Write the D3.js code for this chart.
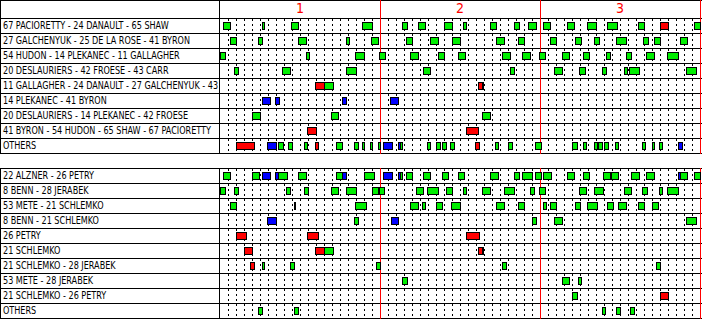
<!DOCTYPE html>
<html>
<head>
<meta charset="utf-8">
<script src="https://cdn.jsdelivr.net/npm/d3@7"></script>
<style>
  body { margin: 0; background: #fff; }
  text { font-family: "DejaVu Sans Condensed", "DejaVu Sans", sans-serif; }
</style>
</head>
<body>
<div id="content"></div>
<script>
const periods = ['1', '2', '3'];

const fwdLines = [
  '67 PACIORETTY - 24 DANAULT - 65 SHAW',
  '27 GALCHENYUK - 25 DE LA ROSE - 41 BYRON',
  '54 HUDON - 14 PLEKANEC - 11 GALLAGHER',
  '20 DESLAURIERS - 42 FROESE - 43 CARR',
  '11 GALLAGHER - 24 DANAULT - 27 GALCHENYUK - 43 CARR',
  '14 PLEKANEC - 41 BYRON',
  '20 DESLAURIERS - 14 PLEKANEC - 42 FROESE',
  '41 BYRON - 54 HUDON - 65 SHAW - 67 PACIORETTY',
  'OTHERS'
];

const defPairs = [
  '22 ALZNER - 26 PETRY',
  '8 BENN - 28 JERABEK',
  '53 METE - 21 SCHLEMKO',
  '8 BENN - 21 SCHLEMKO',
  '26 PETRY',
  '21 SCHLEMKO',
  '21 SCHLEMKO - 28 JERABEK',
  '53 METE - 28 JERABEK',
  '21 SCHLEMKO - 26 PETRY',
  'OTHERS'
];

// shifts per row: [start min, end min, kind]  g = even, r = goal against, b = goal for
const fwdShifts = [
  [[0.4,1.3,'g'],[5.2,5.5,'g'],[8.9,9.8,'g'],[17.8,19.0,'g'],[22.7,23.4,'g'],[24.7,25.6,'g'],[28.0,29.0,'g'],[30.4,30.8,'g'],[33.7,34.5,'g'],[36.7,37.4,'g'],[38.5,39.5,'g'],[40.4,41.3,'g'],[43.4,44.3,'g'],[45.9,47.0,'g'],[48.4,49.6,'g'],[52.2,53.0,'g'],[55.0,56.0,'r'],[59.3,60.0,'g']],
  [[1.2,2.0,'g'],[4.8,5.3,'g'],[9.7,10.7,'g'],[15.7,16.1,'g'],[18.9,19.8,'g'],[23.3,24.0,'g'],[26.2,27.2,'g'],[29.0,30.0,'g'],[34.5,35.5,'g'],[37.3,38.0,'g'],[41.2,42.0,'g'],[44.4,45.1,'g'],[46.8,47.4,'g'],[49.5,50.7,'g'],[52.9,53.5,'g'],[54.2,55.0,'g'],[57.5,58.4,'g']],
  [[0.0,0.6,'g'],[10.8,11.1,'g'],[16.9,18.0,'g'],[19.9,20.6,'g'],[23.8,24.8,'g'],[27.2,28.0,'g'],[29.7,30.6,'g'],[35.3,36.3,'g'],[37.7,38.7,'g'],[39.9,40.6,'g'],[42.7,43.6,'g'],[45.4,46.1,'g'],[48.3,48.7,'g'],[50.7,51.4,'g'],[53.2,54.2,'g'],[55.9,57.3,'g']],
  [[1.8,2.3,'g'],[7.8,8.8,'g'],[15.8,17.0,'g'],[25.4,26.2,'g'],[36.3,36.8,'g'],[41.8,42.8,'g'],[44.9,45.6,'g'],[47.7,48.2,'g'],[50.5,50.9,'g'],[51.1,52.4,'g'],[58.3,59.5,'g']],
  [[11.9,13.0,'r'],[13.0,14.1,'g'],[32.3,32.7,'r'],[32.7,32.9,'g']],
  [[5.3,6.2,'b'],[6.9,7.4,'b'],[15.2,15.8,'b'],[21.3,22.3,'b']],
  [[4.0,5.0,'g'],[13.9,14.8,'g'],[32.8,33.8,'g']],
  [[10.9,12.0,'r'],[30.7,32.2,'r']],
  [[2.0,4.2,'r'],[5.9,7.0,'b'],[7.3,7.9,'g'],[8.5,9.0,'g'],[10.5,10.9,'g'],[11.9,12.2,'r'],[14.5,15.3,'g'],[16.7,17.2,'g'],[17.8,18.0,'g'],[18.8,19.0,'g'],[19.7,20.0,'g'],[20.4,21.5,'b'],[22.2,22.5,'b'],[22.5,22.8,'g'],[25.9,26.3,'g'],[27.0,27.5,'g'],[27.8,28.2,'g'],[28.8,29.2,'g'],[31.9,32.4,'r'],[34.4,34.7,'g'],[36.0,36.5,'g'],[39.4,40.1,'g'],[44.0,44.6,'g'],[45.4,45.7,'g'],[46.7,47.1,'g'],[47.3,47.8,'g'],[48.0,48.5,'g'],[49.4,49.8,'g'],[52.7,53.1,'g'],[54.0,54.3,'g'],[54.9,55.2,'g'],[57.2,57.7,'b']]
];

const defShifts = [
  [[0.4,1.3,'g'],[4.0,4.9,'g'],[5.3,6.2,'b'],[6.9,7.3,'b'],[7.3,8.4,'g'],[9.7,10.7,'g'],[14.5,15.3,'g'],[15.3,15.8,'b'],[18.0,19.2,'g'],[20.4,21.5,'b'],[22.2,22.5,'b'],[22.5,22.8,'g'],[23.3,24.0,'g'],[25.4,26.2,'g'],[27.7,28.5,'g'],[29.7,30.5,'g'],[33.7,34.7,'g'],[36.7,37.4,'g'],[37.7,39.0,'g'],[39.4,40.1,'g'],[40.4,41.4,'g'],[43.4,44.3,'g'],[45.4,46.1,'g'],[47.9,48.7,'g'],[48.9,49.8,'g'],[51.4,52.4,'g'],[53.2,54.2,'g'],[57.2,57.5,'b'],[57.5,58.4,'g'],[59.3,60.0,'g']],
  [[0.0,0.6,'g'],[1.8,2.3,'g'],[8.3,8.8,'g'],[10.5,11.0,'g'],[13.9,14.8,'g'],[15.7,17.0,'g'],[19.0,19.7,'g'],[19.9,20.5,'g'],[24.5,25.4,'g'],[25.9,27.2,'g'],[28.3,29.0,'g'],[30.4,30.8,'g'],[32.8,33.8,'g'],[35.5,36.8,'g'],[38.8,39.2,'g'],[39.9,40.6,'g'],[44.9,45.7,'g'],[46.8,47.9,'g'],[50.5,51.4,'g'],[52.7,53.4,'g'],[54.9,55.2,'g'],[55.9,57.3,'g']],
  [[1.2,2.0,'g'],[9.2,9.4,'g'],[16.9,18.2,'g'],[23.8,24.8,'g'],[25.25,25.6,'g'],[27.0,27.8,'g'],[28.9,30.0,'g'],[34.5,35.5,'g'],[37.3,38.0,'g'],[40.4,40.7,'g'],[41.2,42.0,'g'],[44.4,45.0,'g'],[45.9,47.1,'g'],[48.4,49.1,'g'],[49.8,50.7,'g'],[52.2,53.0,'g'],[54.0,54.7,'g']],
  [[5.9,7.0,'b'],[16.7,17.2,'g'],[21.4,22.3,'b'],[39.0,39.5,'g'],[41.8,42.8,'g'],[58.3,59.5,'g']],
  [[2.0,3.3,'r'],[10.9,12.2,'r'],[30.7,32.4,'r']],
  [[3.0,4.0,'r'],[11.9,13.0,'r'],[13.0,14.1,'g'],[32.3,32.7,'r'],[32.7,32.9,'g']],
  [[3.8,4.2,'r'],[5.2,5.5,'g'],[8.7,9.3,'g'],[19.5,20.0,'g'],[35.3,35.7,'g'],[54.5,55.0,'g']],
  [[22.7,23.4,'g'],[42.7,43.6,'g'],[44.7,45.1,'g']],
  [[44.0,44.6,'g'],[55.0,56.0,'r']],
  [[4.8,5.3,'g'],[9.2,9.8,'g'],[47.8,48.1,'g'],[49.5,50.0,'g'],[51.2,51.7,'g']]
];

const kindColor = { g: '#00ee00', r: '#ff0000', b: '#0000ff' };

const width = 702;
const height = 319;
const labelW = 220;
const rowH = 15;

const x = d3.scaleLinear().domain([0, 60]).range([labelW, 700]);

const svg = d3.select('#content')
  .append('svg')
  .attr('width', width)
  .attr('height', height);

svg.append('clipPath').attr('id', 'lblclip')
  .append('rect').attr('x', 0).attr('y', 0).attr('width', labelW - 2).attr('height', height);

function panel(top, header, labels, shifts) {
  const bodyTop = top + header;
  const bottom = bodyTop + labels.length * rowH;
  const y = d3.scaleBand().domain(labels.map((d, i) => i)).range([bodyTop, bottom]);
  const g = svg.append('g');

  // minute grid (dotted)
  const minutes = d3.range(1, 60).filter(m => m % 20 !== 0);
  g.append('g').selectAll('line')
    .data(minutes).enter().append('line')
    .attr('x1', d => Math.round(x(d)) + 0.5)
    .attr('x2', d => Math.round(x(d)) + 0.5)
    .attr('y1', bodyTop + 1)
    .attr('y2', bottom)
    .attr('stroke', '#000')
    .attr('stroke-dasharray', '2,3');

  // row separators
  g.append('g').selectAll('line')
    .data(d3.range(labels.length + 1)).enter().append('line')
    .attr('x1', 0).attr('x2', width)
    .attr('y1', d => bodyTop + d * rowH + 0.5)
    .attr('y2', d => bodyTop + d * rowH + 0.5)
    .attr('stroke', '#000');

  if (header) {
    g.append('line').attr('x1', 0).attr('x2', width)
      .attr('y1', top + 0.5).attr('y2', top + 0.5).attr('stroke', '#000');
    g.selectAll('.plabel')
      .data(periods).enter().append('text')
      .attr('class', 'plabel')
      .attr('x', (d, i) => x(i * 20 + 10))
      .attr('y', top + 13)
      .attr('text-anchor', 'middle')
      .attr('fill', '#ff0000')
      .style('font-size', '14px')
      .text(d => d);
  }

  // frame
  g.append('line').attr('x1', 0.5).attr('x2', 0.5)
    .attr('y1', top).attr('y2', bottom + 1).attr('stroke', '#000');
  g.append('line').attr('x1', labelW - 0.5).attr('x2', labelW - 0.5)
    .attr('y1', top).attr('y2', bottom + 1).attr('stroke', '#000');

  // period lines
  g.append('g').selectAll('line')
    .data([20, 40, 60]).enter().append('line')
    .attr('x1', d => Math.round(x(d)) + 0.5)
    .attr('x2', d => Math.round(x(d)) + 0.5)
    .attr('y1', top).attr('y2', bottom + 1)
    .attr('stroke', '#ff0000');

  // labels (squeezed a little to match the narrow bitmap font)
  g.append('g').attr('clip-path', 'url(#lblclip)')
    .append('g').attr('transform', 'scale(0.9,1)')
    .selectAll('text')
    .data(labels).enter().append('text')
    .attr('x', 3 / 0.9)
    .attr('y', (d, i) => y(i) + 11)
    .style('font-size', '10px')
    .attr('fill', '#000')
    .text(d => d);

  // shifts
  shifts.forEach((row, i) => {
    g.append('g').selectAll('rect')
      .data(row).enter().append('rect')
      .attr('x', d => Math.round(x(d[0])) + 0.5)
      .attr('y', y(i) + 4.5)
      .attr('width', d => Math.max(1, Math.round(x(d[1])) - Math.round(x(d[0]))))
      .attr('height', 7)
      .attr('fill', d => kindColor[d[2]])
      .attr('stroke', '#000');
  });
}

panel(0, 18, fwdLines, fwdShifts);
panel(168, 0, defPairs, defShifts);
</script>
</body>
</html>
